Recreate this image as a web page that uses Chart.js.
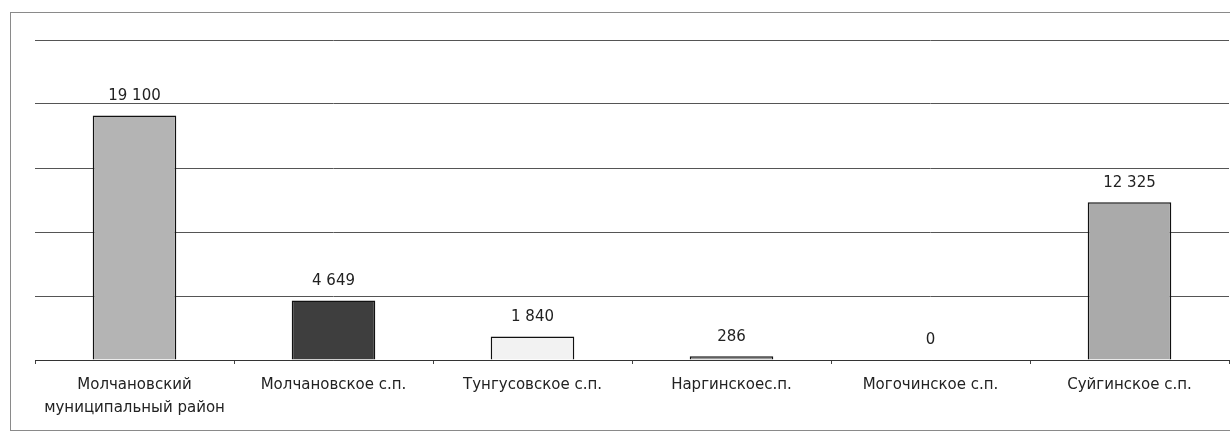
<!DOCTYPE html>
<html>
<head>
<meta charset="utf-8">
<script src="https://cdn.jsdelivr.net/npm/chart.js@4"></script>
<style>
  html, body { margin: 0; padding: 0; background: #fff; }
  body { width: 1230px; height: 446px; position: relative; overflow: hidden; }
  #frame { position: absolute; left: 10px; top: 12px; width: 1240px; height: 417px; border: 1px solid #8a8a8a; }
  #wrap { position: absolute; left: 0; top: 0; width: 1230px; height: 446px; }
</style>
</head>
<body>
<div id="frame"></div>
<div id="wrap"><canvas id="chart"></canvas></div>
<script>
const categories = [
  ["Молчановский", "муниципальный район"],
  "Молчановское с.п.",
  "Тунгусовское с.п.",
  "Наргинскоес.п.",
  "Могочинское с.п.",
  "Суйгинское с.п."
];
const values = [19100, 4649, 1840, 286, 0, 12325];
const barColors = ["#b4b4b4", "#3e3e3e", "#f2f2f2", "#9a9a9a", "#cccccc", "#aaaaaa"];

const fontFamily = "'DejaVu Sans', 'Liberation Sans', Arial, sans-serif";
const fmt = (v) => String(v).replace(/\B(?=(\d{3})+(?!\d))/g, " ");

// подписи значений над столбиками
const valueLabels = {
  id: "valueLabels",
  afterDatasetsDraw(chart) {
    const ctx = chart.ctx;
    const meta = chart.getDatasetMeta(0);
    ctx.save();
    ctx.font = "15px " + fontFamily;
    ctx.fillStyle = "#222";
    ctx.textAlign = "center";
    ctx.textBaseline = "bottom";
    meta.data.forEach((bar, i) => {
      ctx.fillText(fmt(values[i]), bar.x, bar.y - 12);
    });
    ctx.restore();
  }
};

const config = {
  type: "bar",
  data: {
    labels: categories,
    datasets: [{
      data: values,
      backgroundColor: barColors,
      borderColor: "#111",
      borderWidth: 1.5,
      categoryPercentage: 1,
      barPercentage: 0.42
    }]
  },
  options: {
    responsive: false,
    animation: false,
    layout: { padding: { left: 35, right: 1, top: 40, bottom: 0 } },
    plugins: { legend: { display: false }, tooltip: { enabled: false } },
    scales: {
      x: {
        offset: true,
        grid: { offset: true, drawOnChartArea: false, drawTicks: true, tickLength: 4, color: "#444" },
        border: { display: true, color: "#333", width: 1 },
        ticks: {
          color: "#222",
          font: { family: fontFamily, size: 15, lineHeight: 1.5 },
          padding: 10,
          maxRotation: 0,
          autoSkip: false
        },
        afterFit: (s) => { s.height = 86; }
      },
      y: {
        min: 0,
        max: 25000,
        ticks: { display: false, stepSize: 5000 },
        grid: { color: "#555", lineWidth: 1, drawTicks: false },
        border: { display: false },
        afterFit: (s) => { s.width = 0; }
      }
    }
  },
  plugins: [valueLabels]
};

const canvas = document.getElementById("chart");
canvas.width = 1230;
canvas.height = 446;
new Chart(canvas, config);
</script>
</body>
</html>
